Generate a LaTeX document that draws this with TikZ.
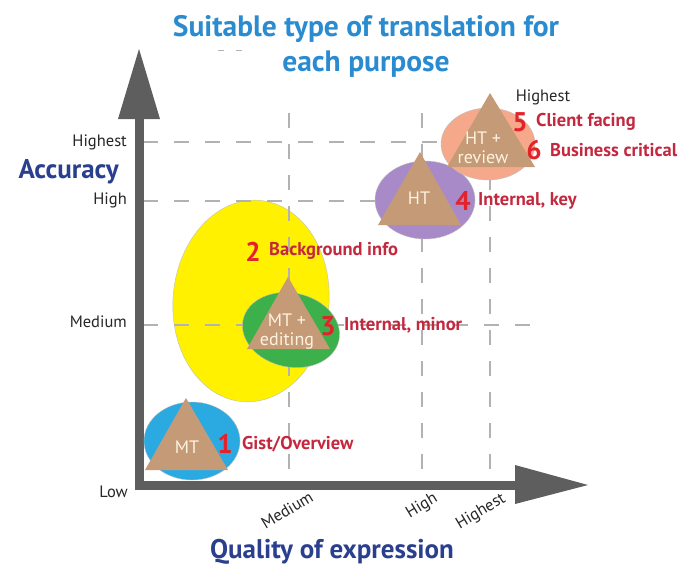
\documentclass[tikz,border=0pt]{standalone}
\usepackage{fontspec}
\setmainfont{PT Sans}
\definecolor{axisgray}{HTML}{5E5E5E}
\definecolor{dashgray}{HTML}{B2B2B2}
\definecolor{titleblue}{HTML}{2A8BD0}
\definecolor{navy}{HTML}{2B3F8F}
\definecolor{numred}{HTML}{E3222B}
\definecolor{labred}{HTML}{C4283F}
\definecolor{tan}{HTML}{C49A77}
\definecolor{cream}{HTML}{FFF3E0}
\definecolor{mtblue}{HTML}{2BAAE2}
\definecolor{infoyellow}{HTML}{FFF100}
\definecolor{editgreen}{HTML}{3CB04A}
\definecolor{htpurple}{HTML}{A98AC8}
\definecolor{revpeach}{HTML}{F5A98A}
\begin{document}
\begin{tikzpicture}[x=1pt,y=-1pt,
  blob/.style={draw=black!25,line width=0.4pt},
  grid/.style={draw=dashgray,line width=1.4pt,dash pattern=on 15pt off 16pt},
  axisline/.style={draw=axisgray,line width=9pt},
  tri/.style={fill=tan},
  tritext/.style={text=cream,font=\fontsize{18}{19}\selectfont,align=center,inner sep=0pt},
  tick/.style={text=black!85,font=\fontsize{16.5}{18}\selectfont,inner sep=0pt},
  axlabel/.style={text=navy,font=\fontsize{27}{29}\selectfont\bfseries,inner sep=0pt},
  num/.style={text=numred,font=\fontsize{27}{29}\selectfont\bfseries,inner sep=0pt},
  purpose/.style={text=labred,font=\fontsize{18.5}{20}\selectfont\bfseries,inner sep=0pt,anchor=west}]
\useasboundingbox (0,0) rectangle (698,570);

% title
\node[text=titleblue,font=\fontsize{29.5}{35}\selectfont\bfseries,align=center] (title) at (366,46)
  {Suitable type of translation for\\each purpose};
\draw[dashgray,line width=1pt] (218,50) -- (224,50) (236,50) -- (242,50);

% background info region
\fill[infoyellow,blob] (251,301) ellipse [x radius=78, y radius=101, rotate=-5];

% level guides
\coordinate (yHighest) at (143,142);
\coordinate (yHigh) at (143,201);
\coordinate (yMedium) at (143,325);
\draw[grid] (yHighest) -- (490,142);
\draw[grid] (yHigh) -- (422,201);
\draw[grid] (yMedium) -- (532,325);
\draw[grid] (289,113) -- (289,481);
\draw[grid] (422,113) -- (422,481);
\draw[grid] (490,113) -- (490,481);

% axes
\draw[axisline] (139,118) -- (139,489);
\draw[axisline] (135,485) -- (516,485);
\fill[axisgray] (139,49) -- (160,119) -- (118,119) -- cycle;
\fill[axisgray] (588,485) -- (515,465) -- (515,504) -- cycle;

% translation types
\fill[editgreen,blob] (291,330) ellipse [x radius=49, y radius=37, rotate=-12];
\fill[tri] (288,277) -- (330,349) -- (247,349) -- cycle;
\node[tritext] (mte) at (287,332) {MT +\\editing};

\fill[htpurple,blob] (425,200) ellipse [x radius=50, y radius=39];
\fill[tri] (420,152) -- (461,225) -- (378,225) -- cycle;
\node[tritext] (ht) at (419,198) {HT};

\fill[revpeach,blob] (488,144) ellipse [x radius=47, y radius=36];
\fill[tri] (490,93) -- (535,167) -- (447,167) -- cycle;
\node[tritext] (htr) at (483,148) {HT +\\review};

\fill[mtblue,blob] (192,441) ellipse [x radius=48, y radius=39];
\fill[tri] (186,398) -- (228,470) -- (145,470) -- cycle;
\node[tritext] (mt) at (187,447) {MT};

% purposes
\node[num] (n1) at (225,444) {1};
\node[purpose] (p1) at (242,444) {Gist/Overview};
\node[num] (n2) at (253,252) {2};
\node[purpose] (p2) at (269,251) {Background info};
\node[num] (n3) at (328,326) {3};
\node[purpose] (p3) at (344,325) {Internal, minor};
\node[num] (n4) at (463,201) {4};
\node[purpose] (p4) at (478,201) {Internal, key};
\node[num] (n5) at (520,122) {5};
\node[purpose] (p5) at (536,122) {Client facing};
\node[num] (n6) at (534,150) {6};
\node[purpose] (p6) at (550,150) {Business critical};
\node[tick] (top) at (543,97) {Highest};

% axis labels
\node[tick,anchor=east] (lyHighest) at (127,142) {Highest};
\node[axlabel,anchor=east] (acc) at (119,172) {Accuracy};
\node[tick,anchor=east] (lyHigh) at (127,200) {High};
\node[tick,anchor=east] (lyMedium) at (127,322) {Medium};
\node[tick,anchor=east] (lyLow) at (128,492) {Low};
\node[tick,rotate=31] (lxMedium) at (287,510) {Medium};
\node[tick,rotate=31] (lxHigh) at (422,506) {High};
\node[tick,rotate=31] (lxHighest) at (481,512) {Highest};
\node[axlabel] (qual) at (332,552) {Quality of expression};
\end{tikzpicture}
\end{document}
